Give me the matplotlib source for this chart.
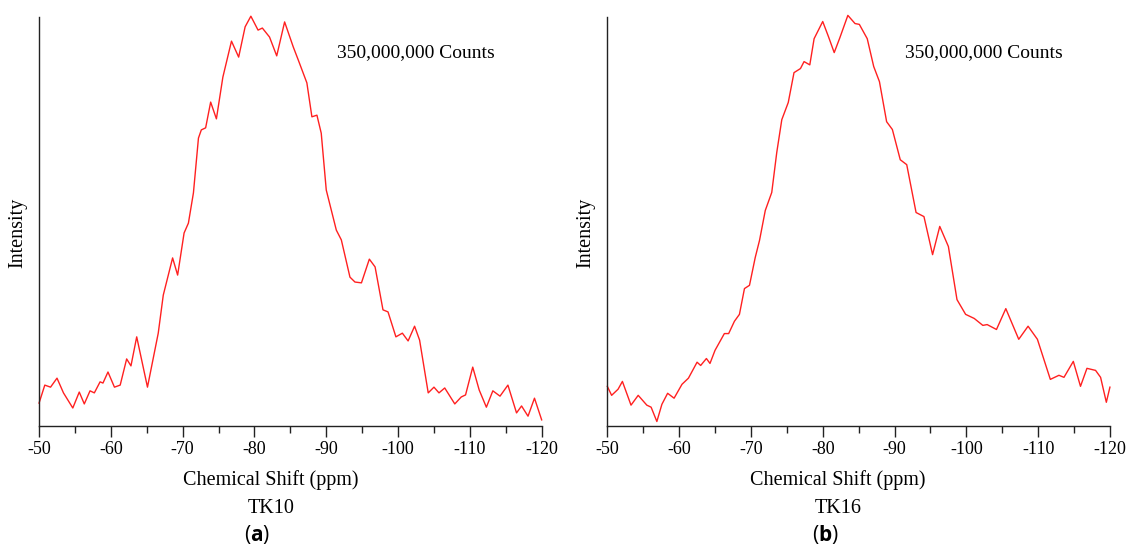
import matplotlib
matplotlib.use('Agg')
import matplotlib.pyplot as plt

# TK10 spectrum: chemical shift (ppm) and relative intensity (%)
tk10_shift = [-50.0, -50.8, -51.6, -52.5, -53.4, -54.7, -55.6, -56.3, -57.1, -57.7,
              -58.5, -58.9, -59.6, -60.5, -61.3, -62.2, -62.8, -63.6, -65.1, -66.6,
              -67.3, -68.6, -69.3, -70.2, -70.8, -71.5, -72.2, -72.6, -73.2, -73.9,
              -74.7, -75.6, -76.8, -77.8, -78.7, -79.5, -80.5, -81.1, -82.1, -83.1,
              -84.2, -85.4, -86.1, -87.3, -88.0, -88.7, -89.3, -90.0, -91.4, -92.1,
              -93.3, -94.0, -94.9, -96.0, -96.8, -97.9, -98.6, -99.7, -100.6, -101.4,
              -102.3, -103.0, -104.2, -105.0, -105.7, -106.5, -107.9, -108.8, -109.4, -110.4,
              -111.3, -112.3, -113.2, -114.2, -115.3, -116.5, -117.2, -118.1, -119.0, -120.0]
tk10_int = [5.6, 10.0, 9.5, 11.7, 8.1, 4.4, 8.3, 5.4, 8.6, 8.1,
            10.8, 10.5, 13.2, 9.5, 10.0, 16.4, 14.7, 21.8, 9.5, 22.7,
            32.0, 41.1, 36.9, 47.2, 49.6, 57.0, 70.4, 72.4, 72.9, 79.2,
            75.1, 85.3, 94.1, 90.2, 97.6, 100.2, 96.8, 97.3, 95.1, 90.5,
            98.8, 92.7, 89.5, 83.9, 75.6, 76.0, 71.6, 57.7, 47.9, 45.5,
            36.4, 35.2, 35.0, 40.8, 38.9, 28.4, 27.9, 21.8, 22.7, 20.8,
            24.4, 21.0, 8.1, 9.5, 8.1, 9.3, 5.4, 7.1, 7.6, 14.4,
            8.8, 4.6, 8.6, 7.3, 10.0, 3.2, 4.9, 2.4, 6.8, 1.5]

# TK16 spectrum
tk16_shift = [-50.0, -50.6, -51.5, -52.1, -53.3, -54.3, -55.5, -56.1, -56.9, -57.6,
              -58.4, -59.3, -60.4, -61.3, -62.5, -63.0, -63.8, -64.3, -65.0, -66.3,
              -66.9, -67.7, -68.4, -69.1, -69.8, -70.6, -71.2, -72.0, -72.9, -73.6,
              -74.3, -75.2, -76.0, -76.9, -77.4, -78.2, -78.8, -80.0, -80.8, -81.6,
              -82.4, -83.5, -84.5, -85.1, -86.2, -87.1, -87.9, -88.9, -89.7, -90.8,
              -91.7, -93.0, -94.1, -95.3, -96.3, -97.5, -98.7, -99.9, -101.1, -102.3,
              -102.9, -104.2, -105.5, -107.3, -108.6, -109.9, -111.7, -112.9, -113.6, -114.9,
              -115.9, -116.8, -118.0, -118.7, -119.5, -120.0]
tk16_int = [9.7, 7.5, 9.0, 10.9, 5.1, 7.5, 5.1, 4.6, 1.1, 5.3,
            8.0, 6.8, 10.2, 11.7, 15.6, 14.8, 16.5, 15.3, 18.5, 22.6,
            22.6, 25.6, 27.3, 33.6, 34.4, 41.2, 45.4, 52.7, 57.1, 66.9,
            74.9, 79.1, 86.4, 87.4, 89.1, 88.3, 94.7, 98.9, 95.2, 91.3,
            95.0, 100.4, 98.4, 98.2, 94.7, 87.9, 84.2, 74.4, 72.5, 65.1,
            63.9, 52.2, 51.2, 41.9, 48.8, 43.9, 30.9, 27.3, 26.3, 24.6,
            24.8, 23.6, 28.7, 21.2, 24.4, 21.2, 11.4, 12.4, 11.9, 15.8,
            9.7, 14.1, 13.6, 11.9, 5.8, 9.5]

major_ticks = [-50, -60, -70, -80, -90, -100, -110, -120]
minor_ticks = [-55, -65, -75, -85, -95, -105, -115]

plt.rcParams['font.family'] = ['Liberation Serif', 'DejaVu Serif']
plt.rcParams['mathtext.fontset'] = 'custom'
plt.rcParams['mathtext.bf'] = 'Open Sans:bold'
plt.rcParams['mathtext.rm'] = 'Open Sans'

fig = plt.figure(figsize=(11.32, 5.56), dpi=100)

panels = [
    (0.0345, tk10_shift, tk10_int, 'TK10', 'a', 0.2394, 0.2270),
    (0.5365, tk16_shift, tk16_int, 'TK16', 'b', 0.7403, 0.7290),
]

for left, shift, inten, name, tag, xc, tagx in panels:
    ax = fig.add_axes([left, 0.2338, 0.4440, 0.7356])
    ax.plot(shift, inten, color='#ff2020', lw=1.0, clip_on=False)
    ax.set_xlim(-50, -120)
    ax.set_ylim(0, 100)
    ax.set_xticks(major_ticks)
    ax.set_xticks(minor_ticks, minor=True)
    ax.set_xticklabels([str(t) for t in major_ticks])
    ax.set_yticks([])
    for s in ['top', 'right']:
        ax.spines[s].set_visible(False)
    for s in ['left', 'bottom']:
        ax.spines[s].set_color('#222222')
        ax.spines[s].set_linewidth(1.0)
    ax.tick_params(axis='x', which='major', length=8, width=1.0, color='#222222',
                   labelsize=13, pad=3)
    ax.tick_params(axis='x', which='minor', length=5, width=1.0, color='#222222')
    ax.text(0.75, 0.912, '350,000,000 Counts', transform=ax.transAxes,
            ha='center', va='center', fontsize=14)
    fig.text(left - 0.019, 0.581, 'Intensity', rotation=90, ha='center', va='center',
             fontsize=14.5)
    fig.text(xc, 0.137, 'Chemical Shift (ppm)', ha='center', va='center', fontsize=14.5)
    fig.text(xc, 0.086, name, ha='center', va='center', fontsize=14.5)
    fig.text(tagx, 0.038, '(' + r'$\mathbf{' + tag + '}$' + ')', ha='center', va='center',
             fontsize=15, family='Open Sans')

plt.savefig('out.png', dpi=100)
